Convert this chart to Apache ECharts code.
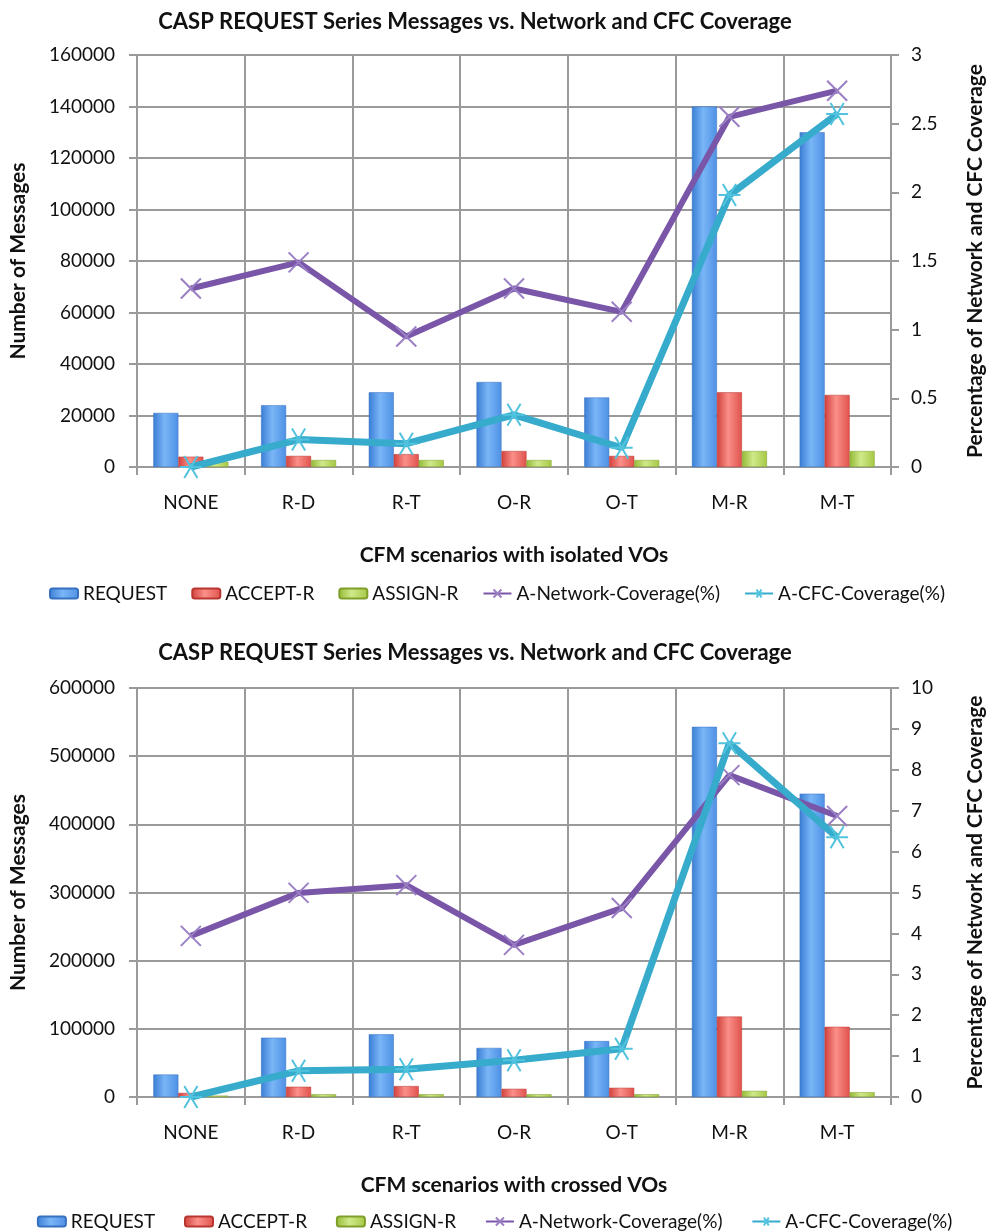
<!DOCTYPE html>
<html>
<head>
<meta charset="utf-8">
<script src="https://cdn.jsdelivr.net/npm/echarts@6/dist/echarts.min.js"></script>
<style>
  html, body { margin: 0; padding: 0; background: #fff; }
  #main { width: 994px; height: 1231px; }
</style>
</head>
<body>
<div id="main"></div>
<script>
var categories = ['NONE', 'R-D', 'R-T', 'O-R', 'O-T', 'M-R', 'M-T'];

// isolated VOs
var isoRequest = [21000, 24000, 29000, 33000, 27000, 140000, 130000];
var isoAccept = [4000, 4300, 5000, 6200, 4300, 29000, 28000];
var isoAssign = [2000, 2700, 2700, 2700, 2700, 6200, 6200];
var isoNetwork = [1.3, 1.49, 0.95, 1.3, 1.13, 2.55, 2.74];
var isoCfc = [0, 0.2, 0.17, 0.38, 0.14, 1.98, 2.57];

// crossed VOs
var crsRequest = [33000, 87000, 92000, 72000, 82000, 543000, 445000];
var crsAccept = [6000, 15000, 16000, 12000, 13500, 118000, 103000];
var crsAssign = [2000, 4000, 4000, 4000, 4000, 9000, 7000];
var crsNetwork = [3.94, 4.99, 5.18, 3.72, 4.62, 7.87, 6.87];
var crsCfc = [0, 0.64, 0.68, 0.9, 1.18, 8.65, 6.35];

var font = 'Lato, "Open Sans", sans-serif';
var gridColor = '#9a9a9a';

function grad(dark, light, mid) {
  return new echarts.graphic.LinearGradient(0, 0, 1, 0, [
    { offset: 0, color: dark },
    { offset: 0.45, color: light },
    { offset: 1, color: mid }
  ]);
}
var blueFill = grad('#3a7dd4', '#79b6f7', '#4f90e4');
var redFill = grad('#d2403b', '#fb8f89', '#e0524c');
var greenFill = grad('#93b936', '#d0e98a', '#a5c843');

var crossSym = 'path://M0 0L10 10M10 0L0 10';
var starSym = 'path://M0 5L10 5M2 0.5L8 9.5M8 0.5L2 9.5';

var chart = echarts.init(document.getElementById('main'));

var tops = [55, 688];
var heights = [412, 409];
var xNames = ['CFM scenarios with isolated VOs', 'CFM scenarios with crossed VOs'];
var leftMax = [160000, 600000];
var leftInt = [20000, 100000];
var rightMax = [3, 10];
var rightInt = [0.5, 1];
var legendTops = [579, 1207];
var titleTops = [6, 637];

function plain(v) { return String(v); }

var option = {
  backgroundColor: '#fff',
  textStyle: { fontFamily: font },
  title: titleTops.map(function (t) {
    return {
      text: 'CASP REQUEST Series Messages vs. Network and CFC Coverage',
      left: 470, top: t, textAlign: 'center',
      textStyle: { fontFamily: font, fontSize: 22, fontWeight: 'bold', color: '#111' }
    };
  }),
  legend: legendTops.map(function (t, i) {
    return {
      top: t, left: 'center', itemGap: 24, itemWidth: 28, itemHeight: 10,
      textStyle: { fontFamily: font, fontSize: 19, color: '#111' },
      data: i === 0
        ? ['REQUEST', 'ACCEPT-R', 'ASSIGN-R', 'A-Network-Coverage(%)', 'A-CFC-Coverage(%)']
        : ['REQUEST ', 'ACCEPT-R ', 'ASSIGN-R ', 'A-Network-Coverage(%) ', 'A-CFC-Coverage(%) ']
    };
  }),
  grid: tops.map(function (t, i) {
    return { left: 132, right: 89, top: t, height: heights[i], containLabel: false };
  }),
  xAxis: [0, 1].map(function (i) {
    return {
      type: 'category', gridIndex: i, data: categories,
      name: xNames[i], nameLocation: 'middle', nameGap: 78,
      nameTextStyle: { fontFamily: font, fontSize: 21, fontWeight: 'bold', color: '#111' },
      axisLine: { lineStyle: { color: gridColor, width: 2 } },
      axisTick: { show: true, alignWithLabel: false, length: 8, lineStyle: { color: gridColor, width: 2 } },
      axisLabel: { fontSize: 19, color: '#111', margin: 26 },
      splitLine: { show: true, lineStyle: { color: gridColor, width: 2 } }
    };
  }),
  yAxis: [],
  series: []
};

[0, 1].forEach(function (i) {
  option.yAxis.push({
    type: 'value', gridIndex: i, min: 0, max: leftMax[i], interval: leftInt[i],
    name: 'Number of Messages', nameLocation: 'middle', nameGap: 108, nameRotate: 90,
    nameTextStyle: { fontFamily: font, fontSize: 21, fontWeight: 'bold', color: '#111' },
    axisLine: { show: true, lineStyle: { color: gridColor, width: 2 } },
    axisTick: { show: true, length: 8, lineStyle: { color: gridColor, width: 2 } },
    axisLabel: { fontSize: 19, color: '#111', margin: 22, formatter: plain },
    splitLine: { show: true, lineStyle: { color: gridColor, width: 2 } }
  });
  option.yAxis.push({
    type: 'value', gridIndex: i, position: 'right', min: 0, max: rightMax[i], interval: rightInt[i],
    name: 'Percentage of Network and CFC Coverage', nameLocation: 'middle', nameGap: 74, nameRotate: 90,
    nameTextStyle: { fontFamily: font, fontSize: 21, fontWeight: 'bold', color: '#111' },
    axisLine: { show: true, lineStyle: { color: gridColor, width: 2 } },
    axisTick: { show: true, length: 8, lineStyle: { color: gridColor, width: 2 } },
    axisLabel: { fontSize: 19, color: '#111', margin: 20, formatter: plain },
    splitLine: { show: false }
  });
});

var sets = [
  [isoRequest, isoAccept, isoAssign, isoNetwork, isoCfc],
  [crsRequest, crsAccept, crsAssign, crsNetwork, crsCfc]
];

sets.forEach(function (s, i) {
  var sfx = i === 0 ? '' : ' ';
  var barBase = { type: 'bar', xAxisIndex: i, yAxisIndex: i * 2, barWidth: 25, barGap: '0%' };
  option.series.push(Object.assign({}, barBase, {
    name: 'REQUEST' + sfx, data: s[0],
    itemStyle: { color: blueFill, borderColor: '#3670c0', borderWidth: 0.5 }
  }));
  option.series.push(Object.assign({}, barBase, {
    name: 'ACCEPT-R' + sfx, data: s[1],
    itemStyle: { color: redFill, borderColor: '#b83630', borderWidth: 0.5 }
  }));
  option.series.push(Object.assign({}, barBase, {
    name: 'ASSIGN-R' + sfx, data: s[2],
    itemStyle: { color: greenFill, borderColor: '#7f9f2a', borderWidth: 0.5 }
  }));
  option.series.push({
    name: 'A-Network-Coverage(%)' + sfx, type: 'line', xAxisIndex: i, yAxisIndex: i * 2 + 1,
    data: s[3], symbol: crossSym, symbolSize: 20, z: 5,
    lineStyle: { color: '#7a56a8', width: 6 },
    itemStyle: { color: '#7a56a8', borderColor: '#9a7fc4', borderWidth: 2 }
  });
  option.series.push({
    name: 'A-CFC-Coverage(%)' + sfx, type: 'line', xAxisIndex: i, yAxisIndex: i * 2 + 1,
    data: s[4], symbol: starSym, symbolSize: 22, z: 6,
    lineStyle: { color: '#37abcb', width: 7 },
    itemStyle: { color: '#37abcb', borderColor: '#52c3de', borderWidth: 2 }
  });
});

chart.setOption(option);
window.addEventListener('resize', chart.resize);
</script>
</body>
</html>
